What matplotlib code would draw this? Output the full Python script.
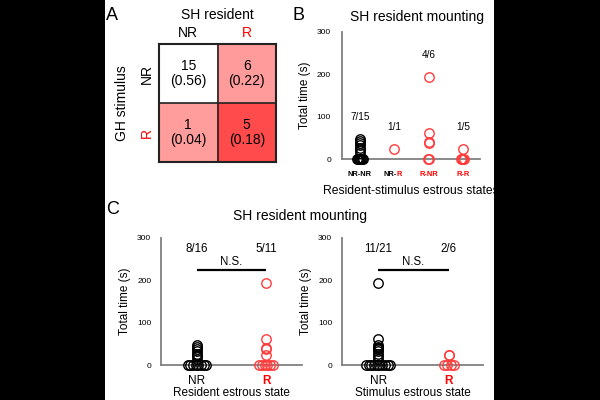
import numpy as np
import matplotlib
matplotlib.use("Agg")
import matplotlib.pyplot as plt
from matplotlib.patches import Rectangle

plt.rcParams['font.family'] = ['Liberation Sans', 'DejaVu Sans']

# ---------------- data ----------------
hm_rows = ["NR", "R"]          # GH stimulus
hm_cols = ["NR", "R"]          # SH resident
hm_counts = [[15, 6], [1, 5]]
hm_props = [[0.56, 0.22], [0.04, 0.18]]
hm_colors = [["#ffffff", "#ff9b9b"], ["#ff9d9d", "#ff4b4b"]]

b_categories = ["NR-NR", "NR-R", "R-NR", "R-R"]
b_counts = ["7/15", "1/1", "4/6", "1/5"]
nrnr = [0, 0, 0, 0, 0, 0, 0, 0, 47, 42, 37, 32, 27, 21, 15]
nrr = [24]
rnr = [0, 0, 37, 40, 62, 193]
rr = [0, 0, 0, 0, 23]

c_categories = ["NR", "R"]
c_res_counts = ["8/16", "5/11"]
c_stim_counts = ["11/21", "2/6"]
res_nr = nrnr + nrr
res_r = rnr + rr
stim_nr = nrnr + rnr
stim_r = nrr + rr

BLACK = "#000000"
RED = "#ff3c3c"
TXTRED = "#ff0000"
SPINE = "#808080"

fig = plt.figure(figsize=(6, 4), dpi=100)
fig.patch.set_facecolor("white")


def fx(px):
    return px / 600.0


def fy(py):
    return 1 - py / 400.0


def swarm(ax, x, vals, color, zw, ms=6.8):
    vals = np.asarray(vals, float)
    zeros = vals[vals == 0]
    nz = vals[vals != 0]
    n = len(zeros)
    if n > 1:
        xs = x + np.linspace(-zw * n, zw * n, n)
    else:
        xs = np.full(n, x)
    ax.plot(xs, zeros, 'o', mfc='none', mec=color, mew=1.0, ms=ms, clip_on=False, zorder=3)
    ax.plot(np.full(len(nz), x), nz, 'o', mfc='none', mec=color, mew=1.0, ms=ms, clip_on=False, zorder=3)


def style_axes(ax, ytick_size, pad):
    for s in ['top', 'right']:
        ax.spines[s].set_visible(False)
    for s in ['left', 'bottom']:
        ax.spines[s].set_color(SPINE)
        ax.spines[s].set_linewidth(1.3)
    ax.set_ylim(0, 300)
    ax.set_yticks([0, 100, 200, 300])
    ax.tick_params(axis='y', length=0, labelsize=ytick_size, pad=pad)
    ax.tick_params(axis='x', length=0)


# ---------------- Panel A ----------------
axA = fig.add_axes([fx(159), fy(162), fx(276 - 159), fy(44) - fy(162)])
rgb = np.array([[matplotlib.colors.to_rgb(c) for c in row] for row in hm_colors])
axA.imshow(rgb, extent=(0, 2, 2, 0), aspect='auto')
for i in range(2):
    for j in range(2):
        axA.text(j + 0.5, i + 0.5, f"{hm_counts[i][j]}\n({hm_props[i][j]:.2f})",
                 ha='center', va='center', fontsize=10, linespacing=1.15)
axA.axhline(1, color='#222222', lw=1.2)
axA.axvline(1, color='#222222', lw=1.2)
for s in axA.spines.values():
    s.set_linewidth(1.5)
    s.set_color('#222222')
axA.set_xlim(0, 2)
axA.set_ylim(2, 0)
axA.xaxis.tick_top()
axA.set_xticks([0.5, 1.5])
axA.set_xticklabels(hm_cols, fontsize=10)
axA.set_yticks([0.5, 1.5])
axA.set_yticklabels(hm_rows, fontsize=10, rotation=90, va='center')
axA.tick_params(length=0, pad=4)
axA.tick_params(axis='x', pad=3)
axA.get_xticklabels()[1].set_color(TXTRED)
axA.get_yticklabels()[1].set_color(TXTRED)
fig.text(fx(217), fy(15), "SH resident", ha='center', va='center', fontsize=10)
fig.text(fx(122), fy(103), "GH stimulus", ha='center', va='center', fontsize=10, rotation=90)
fig.text(fx(106), fy(15), "A", ha='left', va='center', fontsize=13)

# ---------------- Panel B ----------------
axB = fig.add_axes([fx(342), fy(159), fx(480 - 342), fy(32) - fy(159)])
style_axes(axB, 6, 8)
axB.set_xlim(0.48, 4.5)
b_data = [nrnr, nrr, rnr, rr]
b_cols = [BLACK, RED, RED, RED]
for k, (vals, col) in enumerate(zip(b_data, b_cols)):
    swarm(axB, k + 1, vals, col, 0.011)
    axB.text(k + 1, max(vals) + 52, b_counts[k], ha='center', va='center', fontsize=7.2)
axB.set_xticks([1, 2, 3, 4])
axB.set_xticklabels([""] * 4)
lab_specs = [[("NR-NR", BLACK)], [("NR-", BLACK), ("R", TXTRED)],
             [("R-NR", TXTRED)], [("R-R", TXTRED)]]
for k, parts in enumerate(lab_specs):
    if len(parts) == 1:
        axB.annotate(parts[0][0], xy=(k + 1, 0), xycoords=('data', 'axes fraction'),
                     xytext=(0, -8.5), textcoords='offset points', ha='center', va='top',
                     fontsize=5.4, fontweight='bold', color=parts[0][1])
    else:
        t1 = axB.annotate(parts[0][0], xy=(k + 1, 0), xycoords=('data', 'axes fraction'),
                          xytext=(1.5, -8.5), textcoords='offset points', ha='right', va='top',
                          fontsize=5.4, fontweight='bold', color=parts[0][1])
        axB.annotate(parts[1][0], xy=(1, 0), xycoords=t1, ha='left', va='bottom',
                     fontsize=5.4, fontweight='bold', color=parts[1][1])
axB.set_ylabel("Total time (s)", fontsize=8.5, labelpad=4)
axB.text(0.5, -0.25, "Resident-stimulus estrous states", transform=axB.transAxes,
         ha='center', va='center', fontsize=8.7)
fig.text(fx(417), fy(17), "SH resident mounting", ha='center', va='center', fontsize=10)
fig.text(fx(293), fy(15), "B", ha='left', va='center', fontsize=13)


# ---------------- Panel C ----------------
def panel_c(left, right, xlim, groups, counts, xlabel):
    ax = fig.add_axes([fx(left), fy(365), fx(right - left), fy(238) - fy(365)])
    style_axes(ax, 6, 7)
    ax.set_xlim(*xlim)
    for k, (vals, col) in enumerate(zip(groups, [BLACK, RED])):
        swarm(ax, k + 1, vals, col, 0.017)
        ax.text(k + 1, 274, counts[k], ha='center', va='center', fontsize=8.3)
    ax.plot([1, 2], [225, 225], color='black', lw=1.6, solid_capstyle='butt')
    ax.text(1.5, 229, "N.S.", ha='center', va='bottom', fontsize=8.3)
    ax.set_xticks([1, 2])
    ax.set_xticklabels(c_categories, fontsize=8.5)
    ax.get_xticklabels()[1].set_color(TXTRED)
    ax.get_xticklabels()[1].set_fontweight('bold')
    ax.tick_params(axis='x', pad=7)
    ax.set_xlabel(xlabel, fontsize=8.5, labelpad=0)
    ax.set_ylabel("Total time (s)", fontsize=8.5, labelpad=4)
    return ax


panel_c(161, 302, (0.48, 2.52), [res_nr, res_r], c_res_counts, "Resident estrous state")
panel_c(342, 483, (0.49, 2.48), [stim_nr, stim_r], c_stim_counts, "Stimulus estrous state")
fig.text(fx(300), fy(216), "SH resident mounting", ha='center', va='center', fontsize=10)
fig.text(fx(106), fy(210), "C", ha='left', va='center', fontsize=13)

# black side bands
fig.add_artist(Rectangle((0, 0), fx(105), 1, transform=fig.transFigure,
                         facecolor='black', edgecolor='none', zorder=50))
fig.add_artist(Rectangle((fx(494), 0), 1 - fx(494), 1, transform=fig.transFigure,
                         facecolor='black', edgecolor='none', zorder=50))

fig.savefig("out.png", dpi=100, facecolor=fig.get_facecolor())
